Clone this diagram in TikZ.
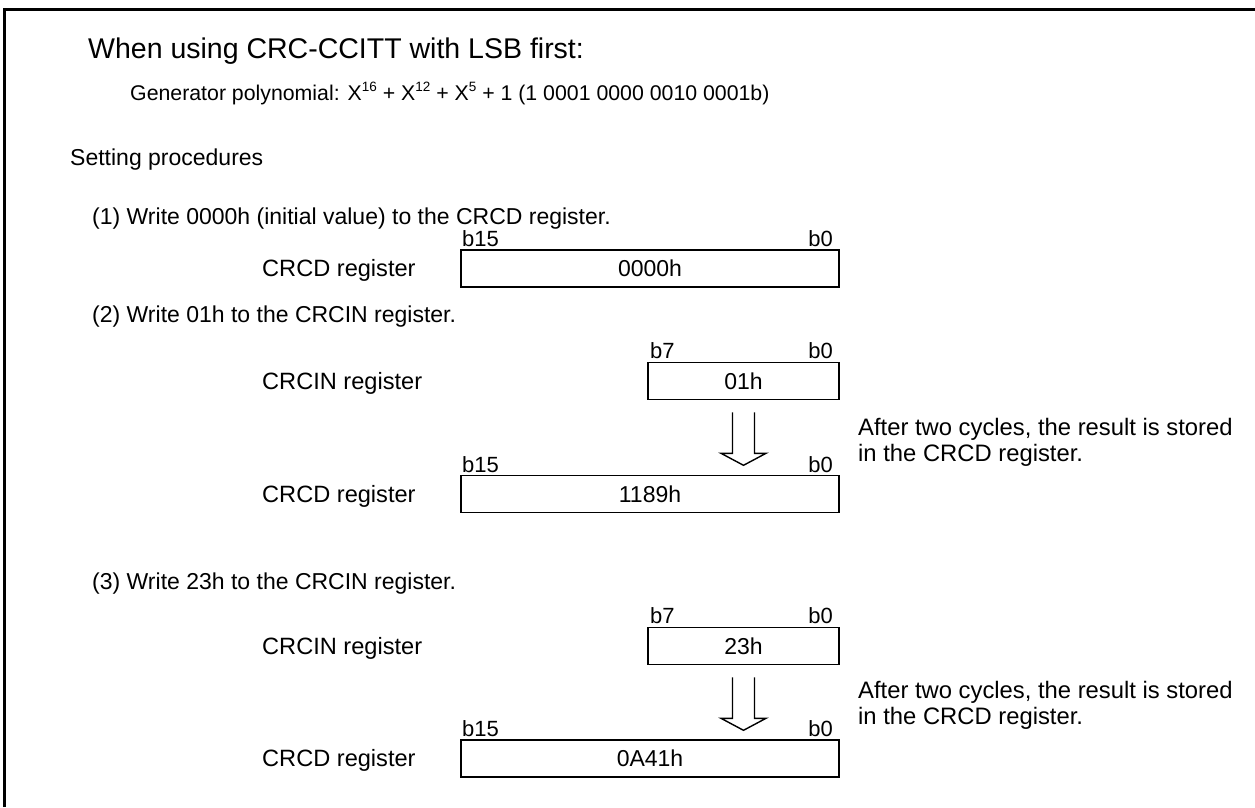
\documentclass[tikz,border=0pt]{standalone}
\usepackage{fontspec}
\setmainfont{Liberation Sans}
\usetikzlibrary{calc}
\newcommand{\supx}[1]{\raisebox{0.42em}{\fontsize{13.5}{13.5}\selectfont #1}}
\begin{document}
\begin{tikzpicture}[x=1pt,y=-1pt,
 txt/.style={anchor=base west, inner sep=0pt, font=\fontsize{23}{26}\selectfont},
 lbl/.style={anchor=base west, inner sep=0pt, font=\fontsize{23.6}{26}\selectfont},
 note/.style={anchor=base west, inner sep=0pt, font=\fontsize{23.8}{26}\selectfont},
 bitl/.style={anchor=base west, inner sep=0pt, font=\fontsize{22}{24}\selectfont},
 bitr/.style={anchor=base east, inner sep=0pt, font=\fontsize{22}{24}\selectfont},
 reg/.style={draw, line width=1.6pt, minimum height=37pt, inner sep=0pt, font=\fontsize{23}{26}\selectfont},
 conv/.style={line width=1.4pt, line join=miter}]
\useasboundingbox (0,0) rectangle (1255,807);
\draw[line width=3pt] (4.5,807) -- (4.5,9.5) -- (1255,9.5);

\node[txt, font=\fontsize{28.5}{30}\selectfont] (title) at (88,58) {When using CRC-CCITT with LSB first:};
\node[txt, font=\fontsize{21.3}{24}\selectfont] (gen) at (130,100) {Generator polynomial: X\supx{16} + X\supx{12} + X\supx{5} + 1 (1 0001 0000 0010 0001b)};
\node[txt] (setp) at (70,165) {Setting procedures};

% step 1
\node[txt] (s1) at (92,224) {(1) Write 0000h (initial value) to the CRCD register.};
\node[reg, minimum width=378pt] (crcd1) at (650,268.5) {0000h};
\node[bitl] (b15a) at (462,246) {b15};
\node[bitr] (b0a) at (833,246) {b0};
\node[lbl] (l1) at (262,276) {CRCD register};

% step 2
\node[txt] (s2) at (92,322) {(2) Write 01h to the CRCIN register.};
\node[reg, minimum width=191pt] (cin2) at (743.5,381) {01h};
\node[bitl] (b7b) at (650,358) {b7};
\node[bitr] (b0b) at (833,358) {b0};
\node[lbl] (l2) at (262,389) {CRCIN register};
\node[reg, minimum width=378pt] (crcd2) at (650,494) {1189h};
\node[bitl] (b15c) at (462,472) {b15};
\node[bitr] (b0c) at (833,472) {b0};
\node[lbl] (l3) at (262,502) {CRCD register};
\draw[conv] ($(cin2.south)+(-11,12)$) -- ++(0,41) -- ++(-11.5,0) -- ++(22.5,12) -- ++(22.5,-12) -- ++(-11.5,0) -- ++(0,-41);
\node[note] (n2a) at (858,435) {After two cycles, the result is stored};
\node[note] (n2b) at (858,461) {in the CRCD register.};

% step 3
\node[txt] (s3) at (92,589) {(3) Write 23h to the CRCIN register.};
\node[reg, minimum width=191pt] (cin3) at (743.5,646) {23h};
\node[bitl] (b7d) at (650,623) {b7};
\node[bitr] (b0d) at (833,623) {b0};
\node[lbl] (l4) at (262,654) {CRCIN register};
\node[reg, minimum width=378pt] (crcd3) at (650,758.5) {0A41h};
\node[bitl] (b15e) at (462,736) {b15};
\node[bitr] (b0e) at (833,736) {b0};
\node[lbl] (l5) at (262,766) {CRCD register};
\draw[conv] ($(cin3.south)+(-11,12)$) -- ++(0,41) -- ++(-11.5,0) -- ++(22.5,12) -- ++(22.5,-12) -- ++(-11.5,0) -- ++(0,-41);
\node[note] (n3a) at (858,698) {After two cycles, the result is stored};
\node[note] (n3b) at (858,724) {in the CRCD register.};
\end{tikzpicture}
\end{document}
